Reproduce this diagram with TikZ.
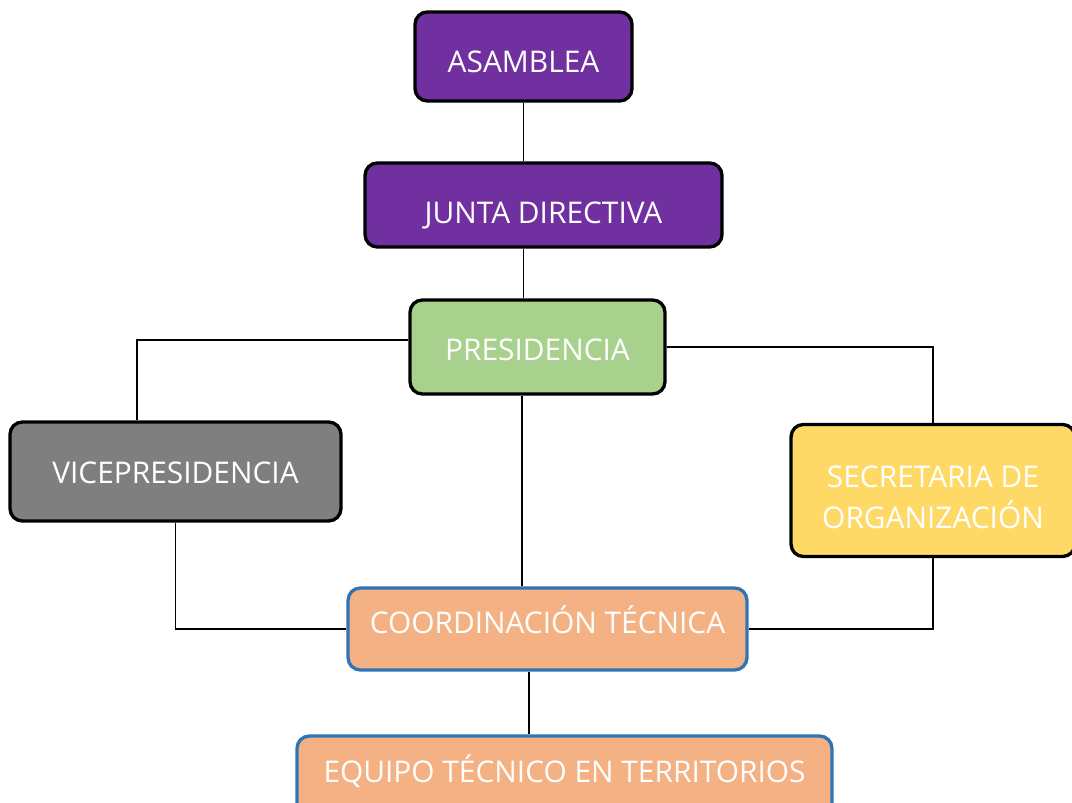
\documentclass[tikz,border=0pt]{standalone}
\usepackage{fontspec}
\setmainfont{Open Sans}
\usetikzlibrary{positioning,calc}
\definecolor{orgpurple}{HTML}{7030A0}
\definecolor{orggreen}{HTML}{A9D18E}
\definecolor{orggray}{HTML}{7F7F7F}
\definecolor{orgyellow}{HTML}{FFD966}
\definecolor{orgpeach}{HTML}{F4B183}
\definecolor{orgblue}{HTML}{2E75B6}

\begin{document}
\begin{tikzpicture}[
  x=0.02cm, y=-0.02cm,
  font=\fontsize{17}{23}\selectfont,
  unit/.style={rounded corners=7pt, draw=black, line width=1.9pt, align=center,
               text=white, inner sep=0pt},
  low/.style={text height=0.63cm, text depth=0pt},
  tech/.style={unit, draw=orgblue, fill=orgpeach, text height=0.43cm},
  conn/.style={line width=0.9pt, draw=black},
]
\clip (0,0) rectangle (1072,803);

% ---- governing bodies ----
\node[unit, low, fill=orgpurple, minimum width=4.34cm, minimum height=1.78cm] (asam)
  at (523.5,56.5) {ASAMBLEA};
\node[unit, low, fill=orgpurple, minimum width=7.14cm, minimum height=1.68cm,
      text height=0.75cm] (junta)
  at (543.5,205) {JUNTA DIRECTIVA};
\node[unit, low, fill=orggreen, minimum width=5.1cm, minimum height=1.88cm,
      text height=0.55cm] (pres)
  at (537.5,347) {PRESIDENCIA};

% ---- second level ----
\node[unit, low, fill=orggray, minimum width=6.62cm, minimum height=1.98cm,
      text height=0.5cm] (vice)
  at (175.5,471.5) {VICEPRESIDENCIA};
\node[unit, fill=orgyellow, minimum width=5.68cm, minimum height=2.64cm] (secr)
  at (933,490.5) {\rule{0pt}{0.71cm}SECRETARIA DE\\ORGANIZACIÓN};

% ---- technical team ----
\node[tech, minimum width=7.98cm, minimum height=1.64cm, text depth=0.24cm] (coord)
  at (547.5,629) {COORDINACIÓN TÉCNICA};
\node[tech, minimum width=10.7cm, minimum height=1.6cm, text depth=0.16cm] (equipo)
  at (564.5,776) {EQUIPO TÉCNICO EN TERRITORIOS};

% ---- connectors ----
\coordinate (pdown) at ($(pres.south)+(-15.5,0)$);
\coordinate (cdown) at ($(coord.south)+(-18.5,0)$);
\draw[conn] (asam.south) -- (asam.south |- junta.north);
\draw[conn] (asam.south |- junta.south) -- (asam.south |- pres.north);
\draw[conn] ($(pres.west)+(0,-7)$) -| ($(vice.north)+(-38.5,0)$);
\draw[conn] (pres.east) -| (secr.north);
\draw[conn] (pdown) -- (pdown |- coord.north);
\draw[conn] (vice.south) |- (coord.west);
\draw[conn] (secr.south) |- (coord.east);
\draw[conn] (cdown) -- (cdown |- equipo.north);

\end{tikzpicture}
\end{document}
